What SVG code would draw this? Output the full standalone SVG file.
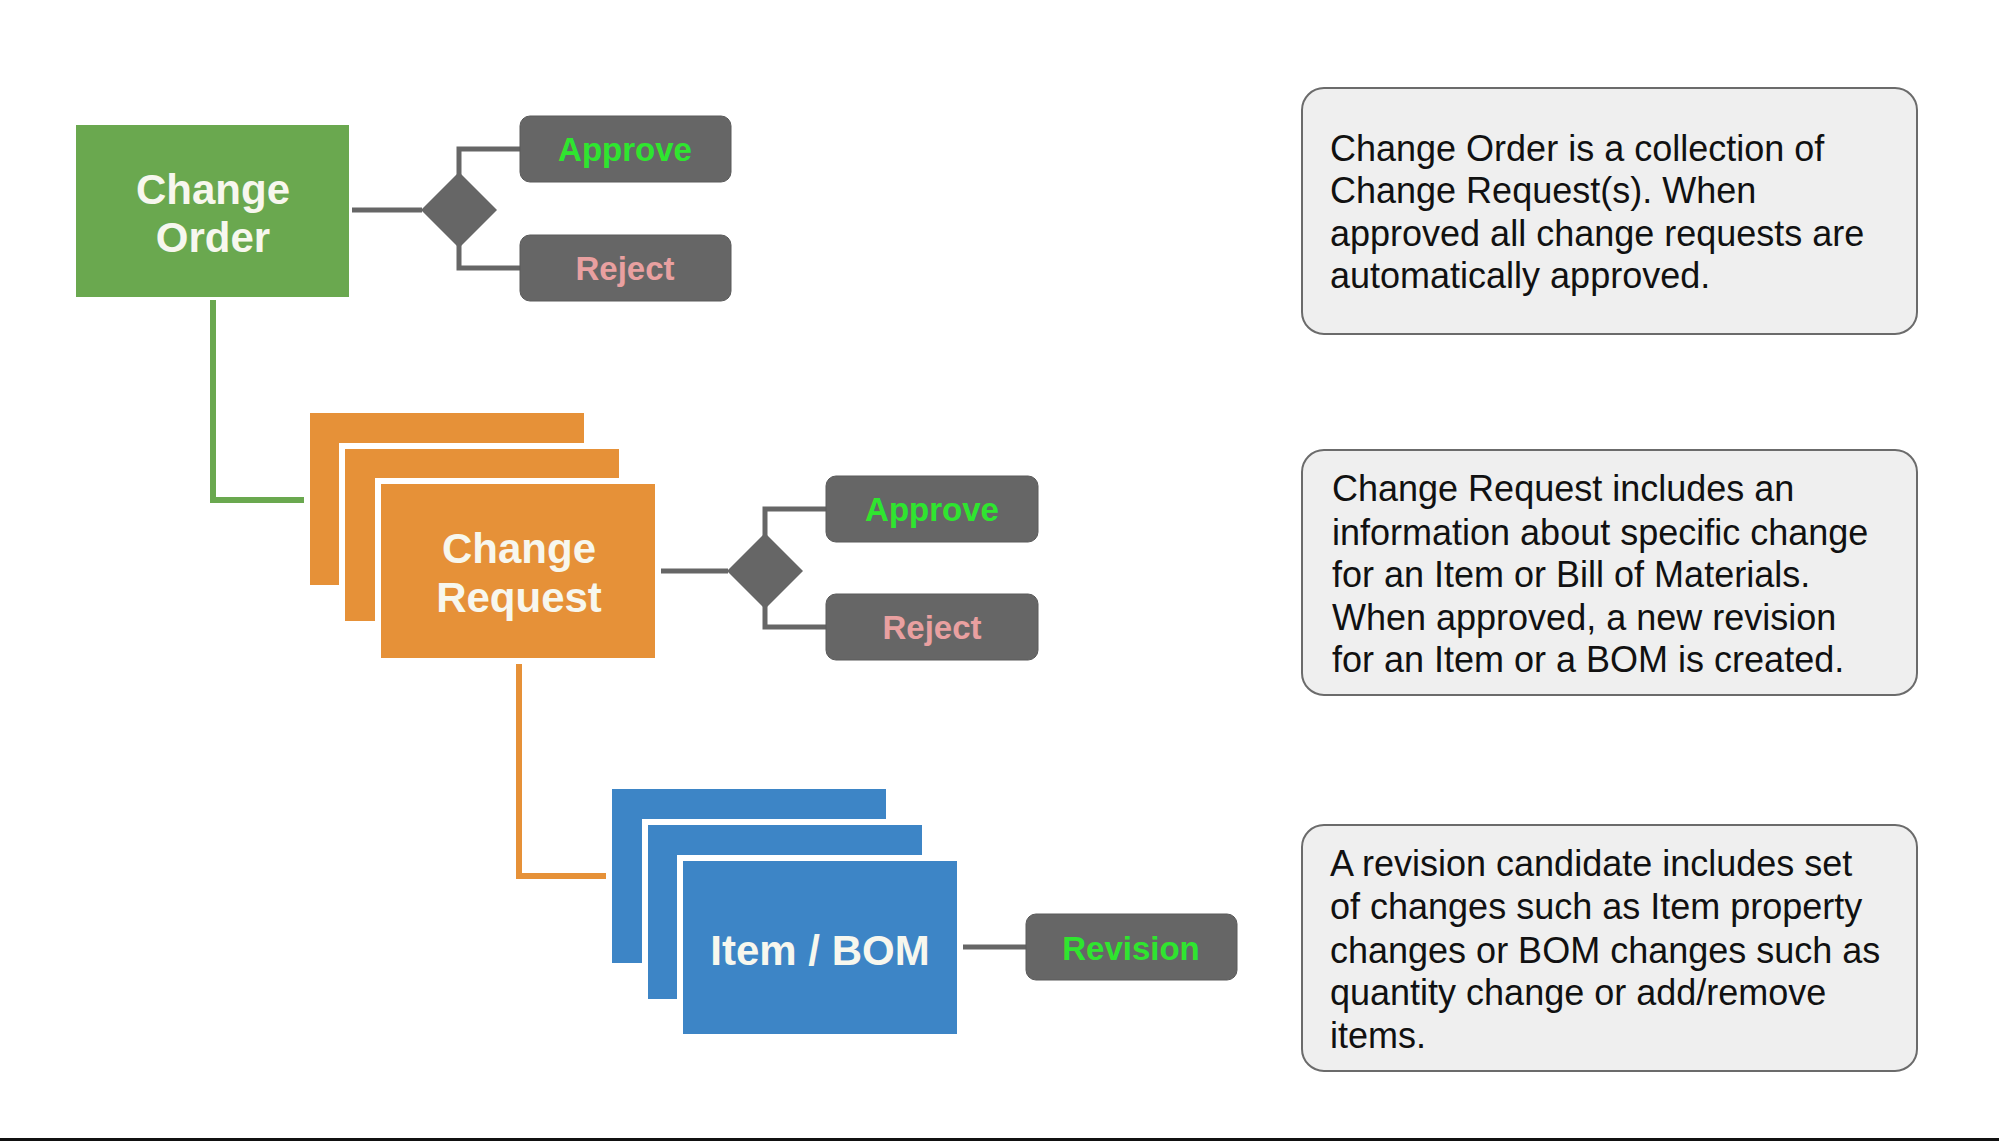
<svg xmlns="http://www.w3.org/2000/svg" width="1999" height="1141" viewBox="0 0 1999 1141">
<style>
.node{font-family:"Liberation Sans",Arial,sans-serif;font-weight:bold;font-size:42px;fill:#f7f7ee;text-anchor:middle}
.btn{fill:#666666;stroke:#5a5a5a;stroke-width:1}
.btxt{font-family:"Liberation Sans",Arial,sans-serif;font-weight:bold;font-size:33px;text-anchor:middle}
.ok{fill:#2fe52f}
.no{fill:#e9a0a0}
.card{stroke:#ffffff;stroke-width:12;paint-order:stroke}
.green{fill:#6aa84f}
.orange{fill:#e69138}
.blue{fill:#3d85c6}
.note{fill:#efefef;stroke:#6b6b6b;stroke-width:2}
.ntxt{font-family:"Liberation Sans",Arial,sans-serif;font-size:36px;fill:#111111}
.gline{fill:none;stroke:#666666;stroke-width:5}
.dia{fill:#666666}
</style>
<rect x="0" y="0" width="1999" height="1141" fill="#ffffff"/>
<rect x="0" y="1138" width="1999" height="3" fill="#111111"/>

<g id="connectors">
  <polyline points="213,300 213,500 306,500" fill="none" stroke="#6aa84f" stroke-width="6"/>
  <polyline points="519,661 519,876 608,876" fill="none" stroke="#e69138" stroke-width="6"/>
  <line x1="352" y1="210" x2="422" y2="210" class="gline"/>
  <polyline points="520,149 459,149 459,268 520,268" class="gline"/>
  <line x1="658" y1="571" x2="728" y2="571" class="gline"/>
  <polyline points="826,509 765,509 765,627 826,627" class="gline"/>
  <line x1="960" y1="947" x2="1026" y2="947" class="gline"/>
</g>

<g id="decision1">
  <polygon points="459,172 497,210 459,248 421,210" class="dia"/>
</g>
<g id="decision2">
  <polygon points="765,533 803,571 765,609 727,571" class="dia"/>
</g>

<g id="change-order">
  <rect x="76" y="125" width="273" height="172" class="green"/>
  <text x="213" y="204" class="node">Change</text>
  <text x="213" y="252" class="node">Order</text>
</g>

<g id="approve1">
  <rect x="520" y="116" width="211" height="66" rx="10" class="btn"/>
  <text x="625" y="161" class="btxt ok">Approve</text>
</g>
<g id="reject1">
  <rect x="520" y="235" width="211" height="66" rx="10" class="btn"/>
  <text x="625" y="280" class="btxt no">Reject</text>
</g>

<g id="change-request">
  <rect x="310" y="413" width="274" height="172" class="card orange"/>
  <rect x="345" y="449" width="274" height="172" class="card orange"/>
  <rect x="381" y="484" width="274" height="174" class="card orange"/>
  <text x="519" y="563" class="node">Change</text>
  <text x="519" y="612" class="node">Request</text>
</g>

<g id="approve2">
  <rect x="826" y="476" width="212" height="66" rx="10" class="btn"/>
  <text x="932" y="521" class="btxt ok">Approve</text>
</g>
<g id="reject2">
  <rect x="826" y="594" width="212" height="66" rx="10" class="btn"/>
  <text x="932" y="639" class="btxt no">Reject</text>
</g>

<g id="item-bom">
  <rect x="612" y="789" width="274" height="174" class="card blue"/>
  <rect x="648" y="825" width="274" height="174" class="card blue"/>
  <rect x="683" y="861" width="274" height="173" class="card blue"/>
  <text x="820" y="965" class="node">Item / BOM</text>
</g>

<g id="revision">
  <rect x="1026" y="914" width="211" height="66" rx="10" class="btn"/>
  <text x="1131" y="960" class="btxt ok">Revision</text>
</g>

<g id="note-change-order">
  <rect x="1302" y="88" width="615" height="246" rx="22" class="note"/>
  <text class="ntxt">
    <tspan x="1330" y="161">Change Order is a collection of</tspan>
    <tspan x="1330" y="203">Change Request(s). When</tspan>
    <tspan x="1330" y="246">approved all change requests are</tspan>
    <tspan x="1330" y="288">automatically approved.</tspan>
  </text>
</g>

<g id="note-change-request">
  <rect x="1302" y="450" width="615" height="245" rx="22" class="note"/>
  <text class="ntxt">
    <tspan x="1332" y="501">Change Request includes an</tspan>
    <tspan x="1332" y="545">information about specific change</tspan>
    <tspan x="1332" y="587">for an Item or Bill of Materials.</tspan>
    <tspan x="1332" y="630">When approved, a new revision</tspan>
    <tspan x="1332" y="672">for an Item or a BOM is created.</tspan>
  </text>
</g>

<g id="note-revision">
  <rect x="1302" y="825" width="615" height="246" rx="22" class="note"/>
  <text class="ntxt">
    <tspan x="1330" y="876">A revision candidate includes set</tspan>
    <tspan x="1330" y="919">of changes such as Item property</tspan>
    <tspan x="1330" y="963">changes or BOM changes such as</tspan>
    <tspan x="1330" y="1005">quantity change or add/remove</tspan>
    <tspan x="1330" y="1048">items.</tspan>
  </text>
</g>
</svg>
